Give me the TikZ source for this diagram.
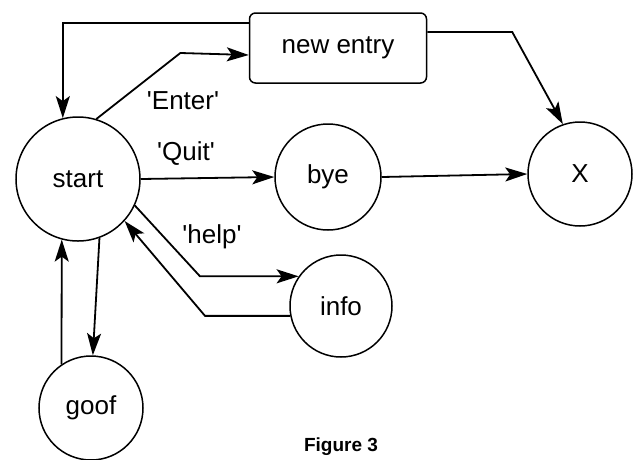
\documentclass[tikz,border=0pt]{standalone}
\usepackage{fontspec}
\setmainfont{Liberation Sans}
\usepackage{tikz}
\usetikzlibrary{arrows.meta}

\tikzset{
  state/.style={draw, circle, line width=1.5pt, minimum size=104pt, inner sep=0pt},
  entrybox/.style={draw, rounded corners=6pt, line width=1.5pt,
                   minimum width=177pt, minimum height=70pt},
  flow/.style={line width=1.8pt, -{Stealth[length=22pt, width=14pt, inset=5pt]}},
  lbl/.style={inner sep=0pt}
}

\newcommand{\q}[1]{\textquotesingle#1\textquotesingle}

\begin{document}
\begin{tikzpicture}[x=1pt, y=-1pt, font=\fontsize{26}{30}\selectfont]
  \useasboundingbox (0,0) rectangle (638,459);

  % states
  \node[state, minimum size=124pt] (start) at (78,179) {start};
  \node[state, minimum size=106pt] (bye) at (328,177) {bye};
  \node[state] (X) at (580,174) {X};
  \node[state, minimum size=102pt] (info) at (341,306) {info};
  \node[state] (goof) at (91,408) {goof};
  \node[entrybox] (entry) at (338,48) {new entry};

  % transitions
  \draw[flow] ([yshift=25pt]entry.west) -| (start.104);
  \draw[flow] (start.73) -- ++(84,-66) -- ([yshift=-7pt]entry.west);
  \draw[flow] (start.east) -- (bye.west);
  \draw[flow] (bye.east) -- (X.west);
  \draw[flow] ([yshift=16pt]entry.east) -- ++(85,0) -- (X.109);
  \draw[flow] (start.-25) -- (info.145 -| 200,0) -- (info.145);
  \draw[flow] (info.191) -- (info.191 -| 205,0) -- (start.-42);
  \draw[flow] (start.-70) -- (goof.88);
  \draw[flow] (goof.124) -- (start.-105);

  % labels
  \node[lbl] (enterlbl) at (183,101) {\q{Enter}};
  \node[lbl] (quitlbl) at (186,154) {\q{Quit}};
  \node[lbl] (helplbl) at (212,237) {\q{help}};

  \node[lbl, font=\fontsize{19}{21}\selectfont\bfseries] (caption) at (341,447) {Figure 3};
\end{tikzpicture}
\end{document}
